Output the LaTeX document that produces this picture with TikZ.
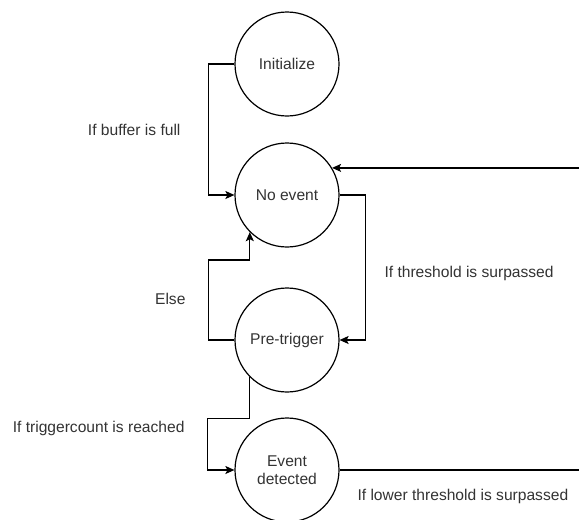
\documentclass[tikz,border=0pt]{standalone}
\usepackage{fontspec}
\setmainfont{Liberation Sans}
\usepackage{xcolor}
\usetikzlibrary{arrows.meta, positioning}
\definecolor{labelgray}{RGB}{51, 51, 51}

\begin{document}
\begin{tikzpicture}[x=1pt, y=-1pt,
  every node/.style={font=\fontsize{15.6}{18}\selectfont, text=labelgray},
  state/.style={circle, draw, line width=1.2pt, minimum size=104pt,
                inner sep=0pt, align=center},
  flow/.style={line width=1.2pt, -{Stealth[length=9pt, width=8pt, inset=2pt]}},
  plain/.style={line width=1.2pt}]

  \useasboundingbox (0,0) rectangle (579,520);

  % ---------- States ----------
  \node[state] (init)    at (287,64)  {Initialize};
  \node[state] (noevent) at (287,195) {No event};
  \node[state] (pretrig) at (287,340) {Pre-trigger};
  \node[state] (event)   at (287,470) {Event\\detected};

  \coordinate (rightedge) at (579,0);
  \coordinate (inStart) at (noevent.31 -| rightedge);
  \coordinate (outEnd)  at (event.east -| rightedge);

  % ---------- Transitions ----------
  \draw[flow] (init.west) -- ++(-26,0) |- (noevent.west);
  \draw[flow] (inStart) -- (noevent.31);
  \draw[flow] (noevent.east) -- ++(26,0) |- (pretrig.east);
  \draw[flow] (pretrig.west) -- ++(-26,0) -- ++(0,-80) -| (noevent.225);
  \draw[flow] (pretrig.225) -- ++(0,41) -- ++(-42,0) |- (event.west);
  \draw[plain] (event.east) -- (outEnd);

  % ---------- Labels ----------
  \node[anchor=east] (lblfull)  at (184,130) {If buffer is full};
  \node[anchor=west] (lblthr)   at (381,273) {If threshold is surpassed};
  \node[anchor=east] (lblelse)  at (189,299) {Else};
  \node[anchor=east] (lblcount) at (188,428) {If triggercount is reached};
  \node[anchor=west] (lbllower) at (354,496) {If lower threshold is surpassed};
\end{tikzpicture}
\end{document}
